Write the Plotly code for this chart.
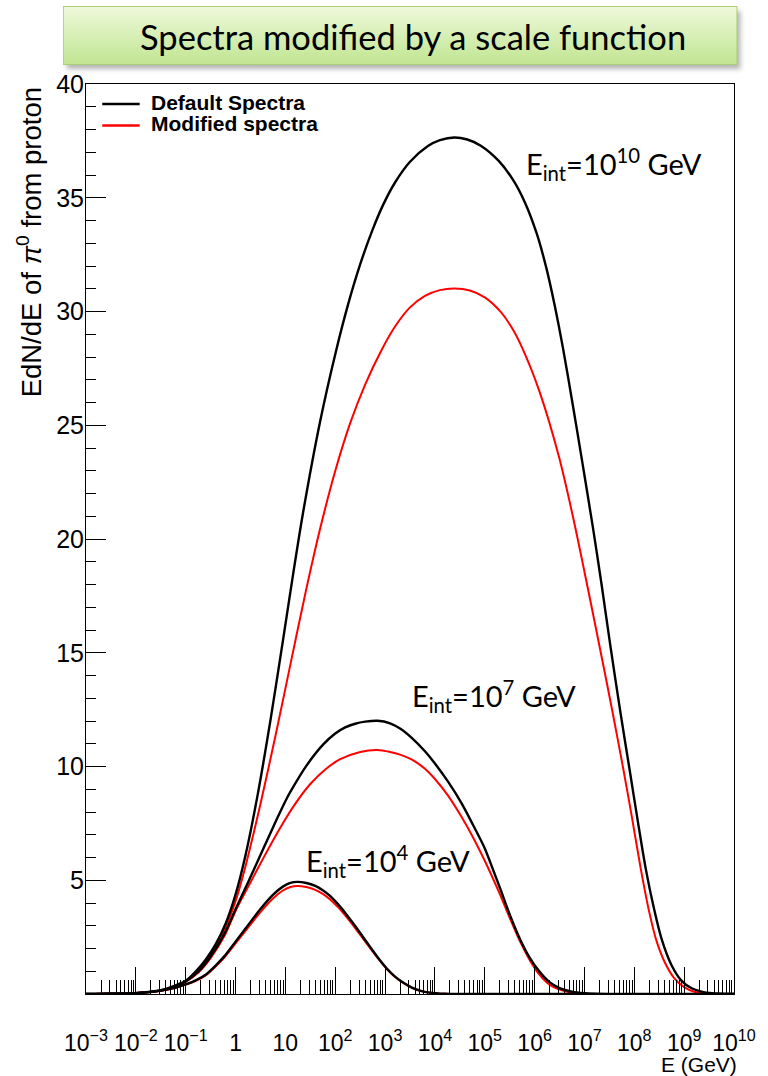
import base64
import plotly.graph_objects as go

# ---------------- data (log10(E/GeV), EdN/dE) ----------------
big_def_logE = [-3, -2.5, -2, -1.5, -1.2, -1, -0.8, -0.6, -0.4, -0.2, 0.0, 0.2, 0.45, 0.7, 0.95, 1.15, 1.35,
                1.7, 2.02, 2.25, 2.5, 2.75, 2.97, 3.2, 3.5, 3.86, 4.1, 4.39, 4.65, 4.92, 5.28, 5.58, 5.81,
                6.04, 6.23, 6.4, 6.57, 6.75, 6.94, 7.17, 7.35, 7.52, 7.72, 7.91, 8.07, 8.23, 8.4, 8.55,
                8.75, 8.94, 9.15, 9.39, 9.7, 10]
big_def_y = [0, 0.01, 0.04, 0.17, 0.38, 0.58, 0.99, 1.51, 2.18, 3.09, 4.37, 6.1, 8.83, 12.03, 15.52, 18.38, 21.1,
             25.2, 28.3, 30.25, 32.07, 33.6, 34.73, 35.67, 36.58, 37.27, 37.53, 37.65, 37.56, 37.29, 36.62, 35.74, 34.77,
             33.44, 31.96, 30.3, 28.38, 26.1, 23.6, 20.5, 17.9, 15.3, 12.4, 9.8, 7.6, 5.5, 3.7, 2.4,
             1.25, 0.6, 0.25, 0.08, 0.01, 0]

big_mod_logE = [-3, -2.5, -2, -1.5, -1.2, -1, -0.8, -0.6, -0.4, -0.2, 0.0, 0.2, 0.5, 0.8, 1.1, 1.4, 1.7,
                2.0, 2.3, 2.6, 2.93, 3.2, 3.5, 3.8, 4.1, 4.39, 4.7, 5.0, 5.32, 5.55, 5.76, 6.1, 6.49, 6.78,
                7.07, 7.36, 7.57, 7.78, 7.95, 8.13, 8.3, 8.45, 8.62, 8.8, 9.0, 9.2, 9.5, 10]
big_mod_y = [0, 0.01, 0.04, 0.16, 0.36, 0.55, 0.95, 1.45, 2.08, 2.92, 4.08, 5.62, 8.35, 11.34, 14.48, 17.6, 20.48,
             22.99, 25.09, 26.79, 28.31, 29.34, 30.18, 30.69, 30.94, 31.01, 30.92, 30.62, 29.98, 29.26, 28.36, 26.47,
             23.6, 20.87, 17.81, 14.65, 12.32, 9.88, 7.8, 5.5, 3.6, 2.3, 1.35, 0.7, 0.3, 0.1, 0.02, 0]

mid_def_logE = [-3, -2.5, -2, -1.5, -1.2, -1, -0.74, -0.5, -0.21, 0.0, 0.25, 0.5, 0.71, 0.85, 1.04, 1.14, 1.43,
                1.76, 2.0, 2.2, 2.4, 2.6, 2.85, 3.1, 3.3, 3.54, 3.8, 4.0, 4.27, 4.53, 4.76, 4.99, 5.16, 5.32,
                5.5, 5.71, 5.9, 6.11, 6.3, 6.5, 6.75, 7.0, 7.3, 10]
mid_def_y = [0, 0.01, 0.04, 0.15, 0.33, 0.55, 1.0, 1.65, 2.7, 3.73, 4.9, 6.11, 7.12, 7.79, 8.65, 9.04, 10.06,
             10.97, 11.45, 11.72, 11.88, 11.97, 12.01, 11.9, 11.67, 11.25, 10.67, 10.13, 9.31, 8.4, 7.45, 6.45, 5.5,
             4.57, 3.5, 2.4, 1.6, 0.95, 0.52, 0.26, 0.1, 0.03, 0, 0]

mid_mod_logE = [-3, -2.5, -2, -1.5, -1.2, -1, -0.74, -0.5, -0.21, 0.0, 0.25, 0.5, 0.9, 1.2, 1.5, 1.8, 2.1,
                2.5, 2.85, 3.1, 3.3, 3.54, 3.8, 4.0, 4.27, 4.53, 4.76, 4.99, 5.16, 5.32, 5.5, 5.71, 5.9,
                6.08, 6.25, 6.4, 6.7, 7.0, 7.3, 10]
mid_mod_y = [0, 0.01, 0.04, 0.14, 0.32, 0.53, 0.96, 1.58, 2.6, 3.65, 4.7, 5.74, 7.32, 8.37, 9.23, 9.87, 10.32,
             10.64, 10.73, 10.64, 10.52, 10.3, 9.9, 9.45, 8.7, 7.8, 6.9, 5.9, 5.1, 4.3, 3.35, 2.3, 1.5,
             0.9, 0.5, 0.28, 0.08, 0.02, 0, 0]

small_def_logE = [-3, -2.5, -2, -1.5, -1.2, -1, -0.8, -0.6, -0.4, -0.2, 0.0, 0.2, 0.5, 0.75, 0.95, 1.1, 1.24,
                  1.42, 1.6, 1.75, 1.89, 2.05, 2.22, 2.4, 2.55, 2.7, 2.87, 3.03, 3.2, 3.37, 3.54, 3.7, 3.9,
                  4.2, 4.5, 10]
small_def_y = [0, 0.01, 0.04, 0.15, 0.28, 0.42, 0.6, 0.85, 1.25, 1.72, 2.3, 2.88, 3.74, 4.36, 4.72, 4.88, 4.93,
               4.88, 4.75, 4.56, 4.32, 3.96, 3.51, 2.99, 2.53, 2.07, 1.56, 1.13, 0.76, 0.49, 0.28, 0.15, 0.06,
               0.01, 0, 0]

small_mod_logE = [-3, -2.5, -2, -1.5, -1.2, -1, -0.8, -0.6, -0.4, -0.2, 0.0, 0.2, 0.5, 0.75, 0.95, 1.1, 1.24,
                  1.42, 1.6, 1.75, 1.89, 2.05, 2.22, 2.4, 2.55, 2.7, 2.87, 3.03, 3.2, 3.37, 3.54, 3.7, 3.9,
                  4.2, 4.5, 10]
small_mod_y = [0, 0.01, 0.04, 0.14, 0.27, 0.41, 0.58, 0.82, 1.21, 1.67, 2.22, 2.78, 3.6, 4.2, 4.55, 4.7, 4.75,
               4.7, 4.58, 4.4, 4.17, 3.83, 3.4, 2.9, 2.46, 2.02, 1.53, 1.11, 0.75, 0.48, 0.27, 0.14, 0.06,
               0.01, 0, 0]

x_tick_exp = list(range(-3, 11))
x_tick_text = ["10<sup>\u22123</sup>", "10<sup>\u22122</sup>", "10<sup>\u22121</sup>", "1", "10"] + \
              ["10<sup>%d</sup>" % k for k in range(2, 11)]
y_tick_vals = [5, 10, 15, 20, 25, 30, 35, 40]

legend_names = ["<b>Default Spectra</b>", "<b>Modified spectra</b>"]
legend_colors = ["black", "#ff0000"]
labels = ["E<sub>int</sub>=10<sup>10</sup> GeV", "E<sub>int</sub>=10<sup>7</sup> GeV",
          "E<sub>int</sub>=10<sup>4</sup> GeV"]
label_pos = [(5.78, 36.5), (3.5, 13.1), (1.37, 5.85)]
title_text = "Spectra modified by a scale function"

# ---------------- figure ----------------
W, H = 768, 1076
L, R, T, B = 85.5, 743.5, 84, 994

fig = go.Figure()
series = [
    (big_mod_logE, big_mod_y, "#ff0000", 2.0),
    (mid_mod_logE, mid_mod_y, "#ff0000", 2.0),
    (small_mod_logE, small_mod_y, "#ff0000", 2.0),
    (big_def_logE, big_def_y, "black", 2.4),
    (mid_def_logE, mid_def_y, "black", 2.4),
    (small_def_logE, small_def_y, "black", 2.4),
]
for lx, ly, col, w in series:
    fig.add_trace(go.Scatter(
        x=[10 ** v for v in lx], y=ly, mode="lines",
        line=dict(color=col, width=w, shape="spline", smoothing=0.8),
        showlegend=False, hoverinfo="skip"))

minor_vals = [m * 10.0 ** k for k in range(-3, 10) for m in range(2, 10)]

fig.update_xaxes(type="log", range=[-3, 10], showgrid=False, zeroline=False,
                 showline=True, mirror=True, linecolor="black", linewidth=1,
                 tickmode="array", tickvals=[10.0 ** k for k in x_tick_exp], ticktext=x_tick_text,
                 ticks="inside", ticklen=27, tickwidth=1, tickcolor="black",
                 minor=dict(tickmode="array", tickvals=minor_vals, ticks="inside", ticklen=14,
                            tickwidth=1, tickcolor="black"),
                 ticklabelstandoff=28,
                 tickfont=dict(family="Liberation Sans", size=23, color="black"))
fig.update_yaxes(range=[0, 40], showgrid=False, zeroline=False,
                 showline=True, mirror=True, linecolor="black", linewidth=1,
                 tickmode="array", tickvals=y_tick_vals,
                 ticks="inside", ticklen=20, tickwidth=1, tickcolor="black",
                 minor=dict(tickmode="linear", tick0=0, dtick=1, ticks="inside", ticklen=10,
                            tickwidth=1, tickcolor="black"),
                 ticklabelstandoff=-4,
                 tickfont=dict(family="Liberation Sans", size=25, color="black"))


def px(xp):
    return (xp - L) / (R - L)


def py(yp):
    return (B - yp) / (B - T)


annos = []
for txt, (ax, ay) in zip(labels, label_pos):
    annos.append(dict(text=txt, x=ax, y=ay, xref="x", yref="y", xanchor="left", yanchor="middle",
                      showarrow=False, font=dict(family="Lato", size=29, color="black")))
annos.append(dict(text="E (GeV)", x=1, y=py(1064), xref="paper", yref="paper", xshift=5,
                  xanchor="right", yanchor="middle", showarrow=False,
                  font=dict(family="Liberation Sans", size=21, color="black")))
annos.append(dict(text="EdN/dE of <i>\u03c0</i><sup>0</sup> from proton", x=px(28), y=py(242),
                  xref="paper", yref="paper", xanchor="center", yanchor="middle", textangle=-90,
                  showarrow=False, font=dict(family="Liberation Sans", size=27.5, color="black")))
annos.append(dict(text=title_text, x=px(418), y=py(37), xref="paper", yref="paper",
                  xanchor="center", yanchor="middle", showarrow=False,
                  font=dict(family="Lato", size=34.5, color="black")))

# legend (drawn as key lines + text, like the ROOT TLegend)
shapes = []
for i, (name, col) in enumerate(zip(legend_names, legend_colors)):
    yl = 104 + 21.5 * i
    shapes.append(dict(type="line", xref="paper", yref="paper", x0=px(102), x1=px(140),
                       y0=py(yl), y1=py(yl), line=dict(color=col, width=2.4)))
    annos.append(dict(text=name, x=px(149), y=py(yl - 2), xref="paper", yref="paper",
                      xanchor="left", yanchor="middle", showarrow=False,
                      font=dict(family="Liberation Sans", size=21, color="black")))

svg = '''<svg xmlns="http://www.w3.org/2000/svg" width="700" height="72" viewBox="0 0 700 72">
<defs><linearGradient id="g" x1="0" y1="0" x2="0" y2="1">
<stop offset="0" stop-color="#eef9db"/><stop offset="1" stop-color="#c0e591"/></linearGradient>
<filter id="s" x="-5%" y="-20%" width="110%" height="140%"><feGaussianBlur stdDeviation="2.5"/></filter></defs>
<rect x="4" y="5" width="684" height="58" fill="#777" opacity="0.55" filter="url(#s)"/>
<rect x="0.5" y="0.5" width="684" height="58" fill="url(#g)" stroke="#a9d076" stroke-width="1"/>
</svg>'''
uri = "data:image/svg+xml;base64," + base64.b64encode(svg.encode()).decode()

fig.update_layout(
    width=W, height=H,
    margin=dict(l=L, r=W - R, t=T, b=H - B, pad=0),
    paper_bgcolor="white", plot_bgcolor="white",
    annotations=annos, shapes=shapes,
    images=[dict(source=uri, xref="paper", yref="paper", x=px(62), y=py(6),
                 sizex=700 / (R - L), sizey=72 / (B - T), xanchor="left", yanchor="top",
                 sizing="stretch", layer="below")],
    showlegend=False,
)

fig.write_html("out.html")
